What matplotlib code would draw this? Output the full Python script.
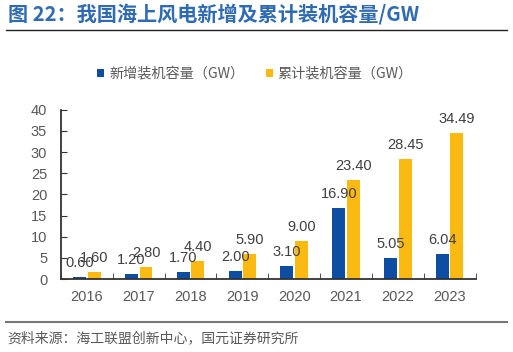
import matplotlib
matplotlib.use('Agg')
import matplotlib.pyplot as plt
import numpy as np

plt.rcParams['font.family'] = ['Liberation Sans', 'Noto Sans CJK SC', 'DejaVu Sans']

years = ['2016', '2017', '2018', '2019', '2020', '2021', '2022', '2023']
new_cap = [0.60, 1.20, 1.70, 2.00, 3.10, 16.90, 5.05, 6.04]
cum_cap = [1.60, 2.80, 4.40, 5.90, 9.00, 23.40, 28.45, 34.49]
yticks = [0, 5, 10, 15, 20, 25, 30, 35, 40]

BLUE = '#0D4EA3'
YELLOW = '#FBBA12'
TXT = '#404040'

fig = plt.figure(figsize=(5.13, 3.52), dpi=100)
ax = fig.add_axes([0.119, 0.207, 0.808, 0.481])

x = np.arange(len(years))
w = 0.25
b1 = ax.bar(x - 0.14, new_cap, w, color=BLUE, label='新增装机容量（GW）')
b2 = ax.bar(x + 0.14, cum_cap, w, color=YELLOW, label='累计装机容量（GW）')

for bars, vals in ((b1, new_cap), (b2, cum_cap)):
    for r, v in zip(bars, vals):
        ax.annotate(f'{v:.2f}', (r.get_x() + r.get_width() / 2, v),
                    xytext=(0, 5), textcoords='offset points',
                    ha='center', va='bottom', fontsize=10.5, color=TXT)

ax.set_xlim(-0.5, len(years) - 0.5)
ax.set_ylim(0, 40)
ax.set_yticks(yticks)
ax.set_xticks(x)
ax.set_xticklabels(years)
ax.set_xticks(np.arange(len(years) + 1) - 0.5, minor=True)
ax.tick_params(axis='x', which='major', length=0, pad=8, labelsize=10.5, labelcolor='#595959')
ax.tick_params(axis='x', which='minor', direction='in', length=4, color='#333333')
ax.tick_params(axis='y', direction='in', length=4, color='#333333', pad=10,
               labelsize=10.5, labelcolor='#595959')

for s in ('top', 'right'):
    ax.spines[s].set_visible(False)
for s in ('left', 'bottom'):
    ax.spines[s].set_color('#333333')
    ax.spines[s].set_linewidth(1.3)

fig.legend(handles=[b1, b2], loc='center', bbox_to_anchor=(0.497, 0.79), ncol=2,
           frameon=False, handlelength=0.5, handleheight=0.5,
           handletextpad=0.35, columnspacing=1.5, labelcolor='#595959',
           prop={'family': ['Noto Sans CJK SC'], 'size': 10.2})

fig.text(0.016, 0.958, '图 22：我国海上风电新增及累计装机容量/GW', fontsize=14.5,
         fontweight='bold', color='#2F6BB3', va='center', ha='left',
         family=['Noto Sans CJK SC', 'DejaVu Sans'])
fig.add_artist(plt.Line2D([0.012, 0.988], [0.915, 0.915], color='#222222', lw=1.0))
fig.add_artist(plt.Line2D([0.012, 0.988], [0.085, 0.085], color='#777777', lw=1.5))
fig.text(0.014, 0.04, '资料来源：海工联盟创新中心，国元证券研究所', fontsize=10,
         color='#595959', va='center', ha='left',
         family=['Noto Sans CJK SC', 'DejaVu Sans'])

fig.savefig('out.png', dpi=100)
